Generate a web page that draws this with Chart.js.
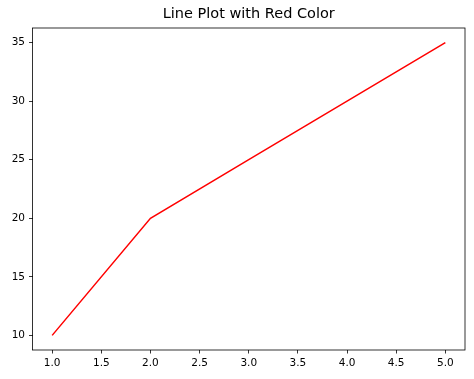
<!DOCTYPE html>
<html>
<head>
<meta charset="utf-8">
<script src="https://cdn.jsdelivr.net/npm/chart.js@4"></script>
<style>
  body { margin: 0; background: #fff; }
  #wrap { width: 474px; height: 379px; }
</style>
</head>
<body>
<div id="wrap"><canvas id="myChart"></canvas></div>
<script>
// data
var xValues = [1, 2, 3, 4, 5];
var yValues = [10, 20, 25, 30, 35];
var xTicks = [1.0, 1.5, 2.0, 2.5, 3.0, 3.5, 4.0, 4.5, 5.0];
var yTicks = [10, 15, 20, 25, 30, 35];

var points = xValues.map(function (x, i) { return { x: x, y: yValues[i] }; });

// box round the plot, like matplotlib spines
var frame = {
  id: 'frame',
  afterDraw: function (chart) {
    var a = chart.chartArea, c = chart.ctx;
    c.save();
    c.strokeStyle = '#000';
    c.lineWidth = 0.8;
    c.strokeRect(a.left, a.top, a.right - a.left, a.bottom - a.top);
    c.restore();
  }
};

var font = { family: 'DejaVu Sans', size: 10.5 };

var ctx = document.getElementById('myChart');
var myChart = new Chart(ctx, {
  type: 'scatter',
  data: {
    datasets: [
      {
        data: points,
        showLine: true,
        borderColor: '#ff0000',
        borderWidth: 1.5,
        pointRadius: 0,
        fill: false
      }
    ]
  },
  options: {
    responsive: true,
    maintainAspectRatio: false,
    animation: false,
    layout: { padding: { left: 0, right: 9, top: 0, bottom: 0 } },
    plugins: {
      legend: { display: false },
      tooltip: { enabled: false },
      title: {
        display: true,
        fullSize: false,
        text: 'Line Plot with Red Color',
        color: '#000',
        font: { family: 'DejaVu Sans', size: 14.5, weight: 'normal' },
        padding: { top: 6, bottom: 4.6 }
      }
    },
    scales: {
      x: {
        type: 'linear',
        min: 0.8,
        max: 5.2,
        afterBuildTicks: function (scale) {
          scale.ticks = xTicks.map(function (v) { return { value: v }; });
        },
        afterFit: function (scale) { scale.height = 29; },
        border: { display: false },
        grid: { drawOnChartArea: false, drawTicks: true, tickLength: 3.5, color: '#000', tickWidth: 0.8 },
        ticks: {
          color: '#000',
          font: font,
          padding: 3.5,
          maxRotation: 0,
          callback: function (v) { return Number(v).toFixed(1); }
        }
      },
      y: {
        min: 8.75,
        max: 36.25,
        afterBuildTicks: function (scale) {
          scale.ticks = yTicks.map(function (v) { return { value: v }; });
        },
        afterFit: function (scale) { scale.width = 32.5; },
        border: { display: false },
        grid: { drawOnChartArea: false, drawTicks: true, tickLength: 3.5, color: '#000', tickWidth: 0.8 },
        ticks: {
          color: '#000',
          font: font,
          padding: 4,
          callback: function (v) { return String(v); }
        }
      }
    }
  },
  plugins: [frame]
});
</script>
</body>
</html>
